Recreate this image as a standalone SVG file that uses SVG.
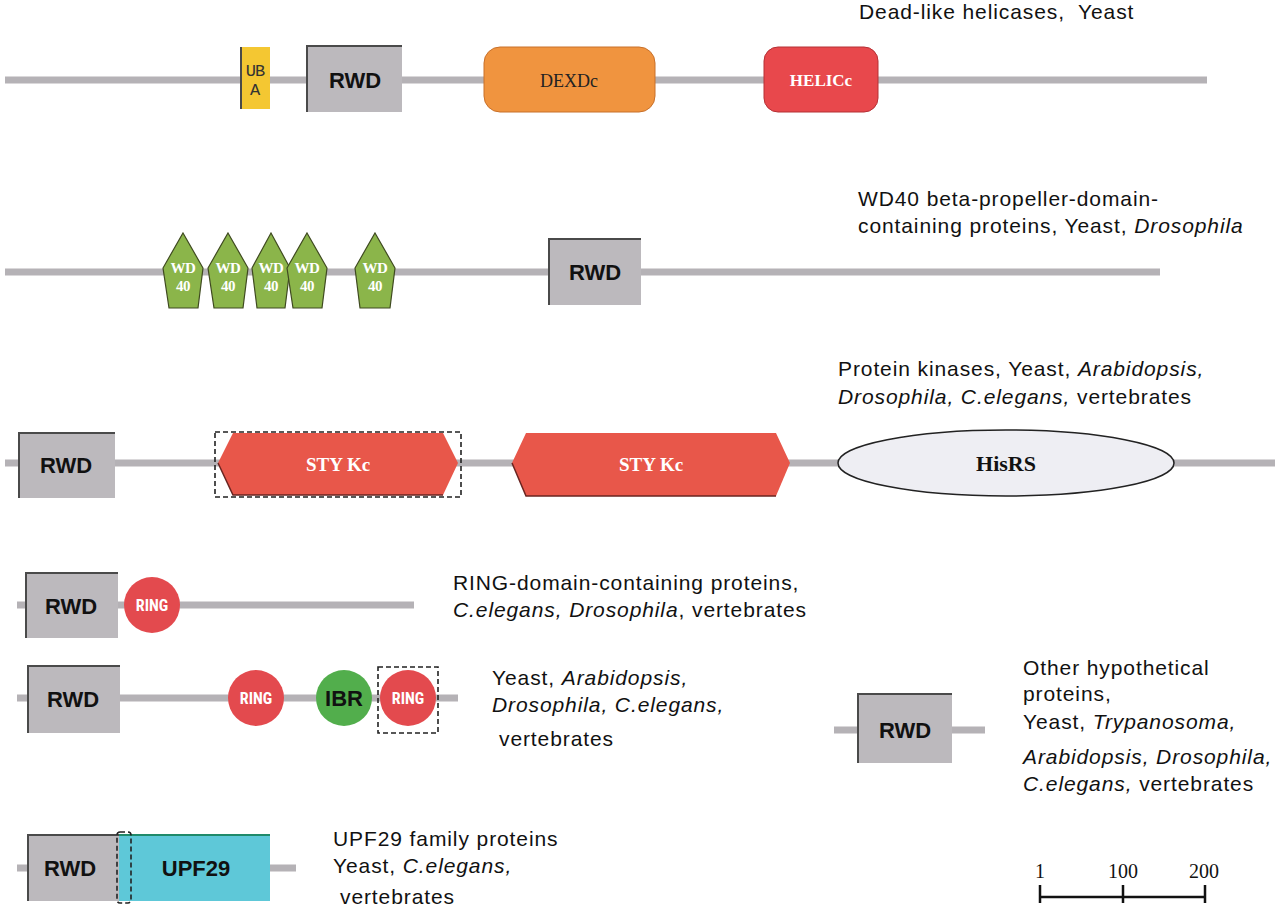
<svg xmlns="http://www.w3.org/2000/svg" width="1280" height="910" viewBox="0 0 1280 910">
<style>
.bb{fill:#ffffff}
.ln{stroke:#b5b2b6;stroke-width:7;fill:none}
.rwd{fill:#bcb9bd}
.edge{stroke:#4a4a4a;stroke-width:2;fill:none}
.lab{font-family:"Liberation Sans",Arial,sans-serif;font-size:21px;letter-spacing:0.9px;fill:#111}
.rt{font-family:"Liberation Sans",Arial,sans-serif;font-size:22px;font-weight:bold;fill:#111;text-anchor:middle}
.ser{font-family:"Liberation Serif","Times New Roman",serif;text-anchor:middle}
.ring{fill:#e34a4e}
.ringt{font-family:"Liberation Sans Narrow","Roboto Condensed","Liberation Sans",Arial,sans-serif;font-size:16px;font-weight:bold;fill:#fff;text-anchor:middle}
.wd{fill:#8bb54a;stroke:#3f4a20;stroke-width:1.2}
.wdt{font-family:"Liberation Serif","Times New Roman",serif;font-size:15px;font-weight:bold;fill:#fff;text-anchor:middle;letter-spacing:-0.5px}
.dash{fill:none;stroke:#222;stroke-width:1.6;stroke-dasharray:5,3}
.sty{fill:#e8574a}
</style>
<rect width="1280" height="910" class="bb"/>
<g id="connectors">
<line class="ln" x1="5" y1="80" x2="1207" y2="80"/>
<line class="ln" x1="5" y1="272" x2="1160" y2="272"/>
<line class="ln" x1="5" y1="463" x2="1275" y2="463"/>
<line class="ln" x1="17" y1="605" x2="414" y2="605"/>
<line class="ln" x1="17" y1="698" x2="458" y2="698"/>
<line class="ln" x1="834" y1="730" x2="985" y2="730"/>
<line class="ln" x1="17" y1="868" x2="296" y2="868"/>
</g>
<g id="title1"><text class="lab" x="859" y="19" letter-spacing="1.2">Dead-like helicases,&#160; Yeast</text></g>
<g id="uba1">
<rect x="240" y="47" width="30" height="62" fill="#f4c732"/>
<path class="edge" d="M241,109 V47"/>
<text x="255" y="76" font-family="Liberation Mono,Courier New,monospace" font-size="17" fill="#333" text-anchor="middle" letter-spacing="-1">UB</text>
<text x="255" y="95" font-family="Liberation Mono,Courier New,monospace" font-size="17" fill="#333" text-anchor="middle">A</text>
</g>
<g id="rwd1">
<rect class="rwd" x="306" y="45" width="96" height="67"/>
<path class="edge" d="M307,112 V46 H402"/>
<text class="rt" x="355" y="88">RWD</text>
</g>
<g id="dexdc">
<rect x="484" y="47" width="171" height="65" rx="16" fill="#f0943f" stroke="#c8702a" stroke-width="1"/>
<text class="ser" x="569" y="87" font-size="18" fill="#222">DEXDc</text>
</g>
<g id="helicc">
<rect x="764" y="47" width="114" height="65" rx="14" fill="#e8484c" stroke="#b53035" stroke-width="1"/>
<text class="ser" x="821" y="86" font-size="17" font-weight="bold" fill="#fff">HELICc</text>
</g>

<g id="title2">
<text class="lab" x="858" y="206">WD40 beta-propeller-domain-</text>
<text class="lab" x="858" y="233">containing proteins, Yeast, <tspan font-style="italic">Drosophila</tspan></text>
</g>
<g id="wd40-1"><polygon class="wd" points="183,233 203,268 198,308 169,308 163,268"/><text class="wdt" x="183" y="273">WD</text><text class="wdt" x="183" y="291">40</text></g>
<g id="wd40-2"><polygon class="wd" points="228,233 248,268 243,308 214,308 208,268"/><text class="wdt" x="228" y="273">WD</text><text class="wdt" x="228" y="291">40</text></g>
<g id="wd40-3"><polygon class="wd" points="271,233 290,268 285,308 257,308 252,268"/><text class="wdt" x="271" y="273">WD</text><text class="wdt" x="271" y="291">40</text></g>
<g id="wd40-4"><polygon class="wd" points="307,233 327,268 322,308 293,308 287,268"/><text class="wdt" x="307" y="273">WD</text><text class="wdt" x="307" y="291">40</text></g>
<g id="wd40-5"><polygon class="wd" points="375,233 395,268 390,308 360,308 355,268"/><text class="wdt" x="375" y="273">WD</text><text class="wdt" x="375" y="291">40</text></g>
<g id="rwd2">
<rect class="rwd" x="548" y="238" width="93" height="67"/>
<path class="edge" d="M549,305 V239 H641"/>
<text class="rt" x="595" y="280">RWD</text>
</g>

<g id="title3">
<text class="lab" x="838" y="376">Protein kinases, Yeast, <tspan font-style="italic">Arabidopsis,</tspan></text>
<text class="lab" x="838" y="404"><tspan font-style="italic">Drosophila, C.elegans,</tspan> vertebrates</text>
</g>
<g id="rwd3">
<rect class="rwd" x="18" y="432" width="97" height="66"/>
<path class="edge" d="M19,498 V433 H115"/>
<text class="rt" x="66" y="473">RWD</text>
</g>
<g id="stykc1">
<polygon class="sty" points="218,463 233,433 443,433 458,463 443,495 233,495"/>
<path d="M218,463 L233,495 H443" stroke="#6a2420" stroke-width="1.5" fill="none"/>
<rect class="dash" x="215" y="432" width="246" height="65"/>
<text class="ser" x="338" y="471" font-size="19" font-weight="bold" fill="#fff">STY Kc</text>
</g>
<g id="stykc2">
<polygon class="sty" points="512,463 526,433 776,433 790,463 776,496 526,496"/>
<path d="M512,463 L526,496 H776" stroke="#6a2420" stroke-width="1.5" fill="none"/>
<text class="ser" x="651" y="471" font-size="19" font-weight="bold" fill="#fff">STY Kc</text>
</g>
<g id="hisrs">
<ellipse cx="1006" cy="463" rx="168" ry="33" fill="#eeeef3" stroke="#222" stroke-width="1.5"/>
<text class="ser" x="1006" y="471" font-size="22" font-weight="bold" fill="#111">HisRS</text>
</g>

<g id="title4">
<text class="lab" x="453" y="590">RING-domain-containing proteins,</text>
<text class="lab" x="453" y="617"><tspan font-style="italic">C.elegans, Drosophila</tspan>, vertebrates</text>
</g>
<g id="rwd4">
<rect class="rwd" x="25" y="572" width="93" height="66"/>
<path class="edge" d="M26,638 V573 H118"/>
<text class="rt" x="71" y="614">RWD</text>
</g>
<g id="ring4"><circle class="ring" cx="152" cy="605" r="28"/><text class="ringt" x="152" y="611">RING</text></g>

<g id="title5">
<text class="lab" x="492" y="685">Yeast, <tspan font-style="italic">Arabidopsis,</tspan></text>
<text class="lab" x="492" y="712"><tspan font-style="italic">Drosophila, C.elegans,</tspan></text>
<text class="lab" x="499" y="746">vertebrates</text>
</g>
<g id="rwd5">
<rect class="rwd" x="27" y="665" width="93" height="68"/>
<path class="edge" d="M28,733 V666 H120"/>
<text class="rt" x="73" y="707">RWD</text>
</g>
<g id="ring5a"><circle class="ring" cx="256" cy="698" r="28"/><text class="ringt" x="256" y="704">RING</text></g>
<g id="ibr"><circle cx="344" cy="698" r="28" fill="#52ae4c"/><text class="rt" x="344" y="706" font-size="23">IBR</text></g>
<g id="ring5b"><circle class="ring" cx="408" cy="698" r="28"/><text class="ringt" x="408" y="704">RING</text><rect class="dash" x="378" y="667" width="60" height="66"/></g>

<g id="title6">
<text class="lab" x="1023" y="675">Other hypothetical</text>
<text class="lab" x="1023" y="701">proteins,</text>
<text class="lab" x="1023" y="729">Yeast, <tspan font-style="italic">Trypanosoma,</tspan></text>
<text class="lab" x="1023" y="764"><tspan font-style="italic">Arabidopsis, Drosophila,</tspan></text>
<text class="lab" x="1023" y="791"><tspan font-style="italic">C.elegans,</tspan> vertebrates</text>
</g>
<g id="rwd6">
<rect class="rwd" x="857" y="693" width="95" height="70"/>
<path class="edge" d="M858,763 V694 H952"/>
<text class="rt" x="905" y="738">RWD</text>
</g>

<g id="title7">
<text class="lab" x="333" y="846">UPF29 family proteins</text>
<text class="lab" x="333" y="873">Yeast, <tspan font-style="italic">C.elegans,</tspan></text>
<text class="lab" x="340" y="904">vertebrates</text>
</g>
<g id="rwd7">
<rect class="rwd" x="27" y="834" width="92" height="67"/>
<path class="edge" d="M28,901 V835 H119"/>
<text class="rt" x="70" y="876">RWD</text>
</g>
<g id="upf29">
<rect x="119" y="834" width="151" height="67" fill="#5ec8d8"/>
<path d="M119,835 H270" stroke="#1f8a6a" stroke-width="2"/>
<rect class="dash" x="117" y="832" width="14" height="71" rx="3"/>
<text class="rt" x="196" y="876">UPF29</text>
</g>

<g id="scale">
<text class="ser" x="1040" y="878" font-size="20" fill="#111">1</text>
<text class="ser" x="1123" y="878" font-size="20" fill="#111">100</text>
<text class="ser" x="1204" y="878" font-size="20" fill="#111">200</text>
<path d="M1040,897 H1205 M1040,885 V903 M1123,885 V903 M1205,885 V903" stroke="#111" stroke-width="2.5" fill="none"/>
</g>
</svg>
